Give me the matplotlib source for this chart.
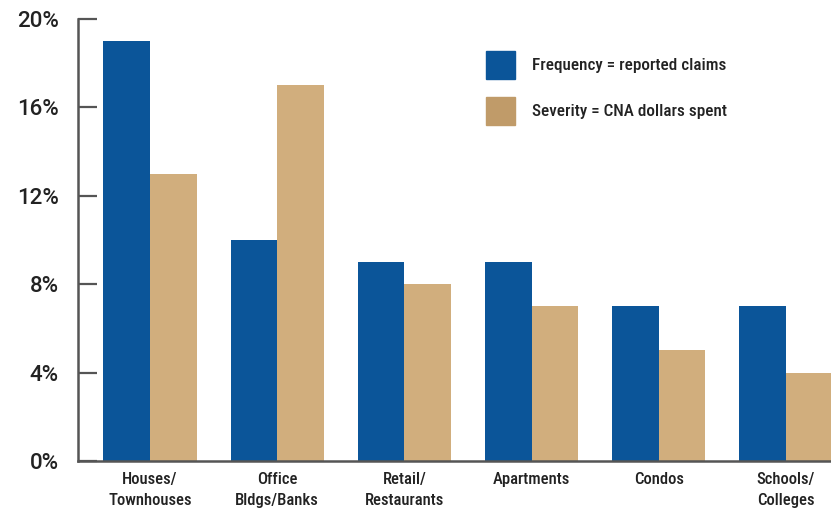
import numpy as np
import matplotlib
matplotlib.use('Agg')
from matplotlib import pyplot as plt
from matplotlib.patches import Patch

categorias = ['Houses/\nTownhouses', 'Office\nBldgs/Banks', 'Retail/\nRestaurants',
              'Apartments', 'Condos', 'Schools/\nColleges']
frecuencia = [19, 10, 9, 9, 7, 7]
severidad = [13, 17, 8, 7, 5, 4]
yticks = [0, 4, 8, 12, 16, 20]

azul = '#0b5599'
tostado = '#d1ae7d'
gris = '#555555'
texto = '#222222'

plt.rcParams['font.family'] = ['Roboto Condensed', 'Roboto', 'DejaVu Sans']
plt.rcParams['font.weight'] = 'medium'

fig = plt.figure(figsize=(8.31, 5.09), dpi=100)
ax = fig.add_axes([0.0939, 0.0943, 0.9061, 0.8684])

x = np.arange(len(categorias))
w = 0.366
ax.bar(x - w / 2, frecuencia, w, color=azul)
ax.bar(x + w / 2, severidad, w, color=tostado)

ax.set_xlim(-0.566, 5.354)
ax.set_ylim(0, 20)
ax.set_yticks(yticks)
ax.set_yticklabels([f'{v}%' for v in yticks], fontsize=16, color=texto,
                   family=['Roboto', 'DejaVu Sans'])
ax.set_xticks(x)
ax.set_xticklabels(categorias, fontsize=12, color=texto, linespacing=1.45)

ax.tick_params(axis='y', direction='in', length=14, width=1.6, color=gris, pad=14)
ax.tick_params(axis='x', length=0, pad=8)
for s in ['top', 'right']:
    ax.spines[s].set_visible(False)
for s in ['left', 'bottom']:
    ax.spines[s].set_color(gris)
    ax.spines[s].set_linewidth(1.8)

handles = [Patch(color=azul, label='Frequency = reported claims'),
           Patch(color='#c09b69', label='Severity = CNA dollars spent')]
leg = ax.legend(handles=handles, loc='upper left', bbox_to_anchor=(0.533, 0.943),
                frameon=False, fontsize=12.3, handlelength=1.7, handleheight=2.14,
                labelspacing=1.05, handletextpad=1.0, borderaxespad=0)
for t in leg.get_texts():
    t.set_color(texto)

plt.savefig('out.png', dpi=100)
